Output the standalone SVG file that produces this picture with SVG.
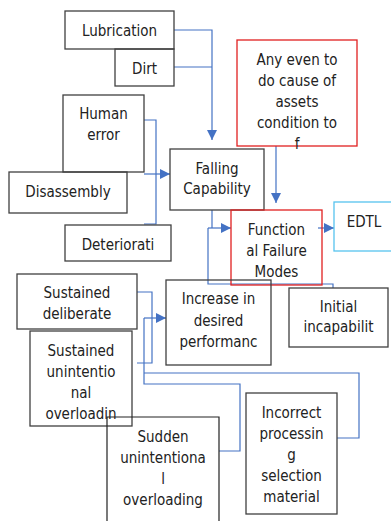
<svg xmlns="http://www.w3.org/2000/svg" width="391" height="521" viewBox="0 0 391 521">
<defs>
<marker id="ah" viewBox="0 0 10 10" refX="10" refY="5" markerWidth="10" markerHeight="10" markerUnits="userSpaceOnUse" orient="auto">
<path d="M0,0 L10,5 L0,10 Z" fill="#4472C4"/>
</marker>
<style>
.b{fill:none;stroke:#404040;stroke-width:1.3}
.r{fill:none;stroke:#e02020;stroke-width:1.3}
.c{fill:none;stroke:#56c3ee;stroke-width:1.3}
.t{font-family:"DejaVu Sans Condensed","DejaVu Sans","Liberation Sans",sans-serif;font-stretch:condensed;font-size:15px;fill:#222;text-anchor:middle}
.l{fill:none;stroke:#4472C4;stroke-width:1.2}
.k{fill:none;stroke:#222;stroke-width:1.2}
</style>
</defs>
<rect width="391" height="521" fill="#fff"/>
<g id="connectors">
<path class="l" d="M174,30 H212 V140" marker-end="url(#ah)"/>
<path class="l" d="M174,67 H212"/>
<path class="l" d="M144,120 H156 V224 H144"/>
<path class="l" d="M144,174 H170" marker-end="url(#ah)"/>
<path class="l" d="M276,146 V203" marker-end="url(#ah)"/>
<path class="l" d="M212,210 V228"/>
<path class="l" d="M208,228 H231" marker-end="url(#ah)"/>
<path class="l" d="M208,228 V284 H333 V288"/>
<path class="l" d="M318,228 H334" marker-end="url(#ah)"/>
<path class="l" d="M137,292 H152 V363 H137"/>
<path class="l" d="M144,318 H166" marker-end="url(#ah)"/>
<path class="l" d="M144,318 V384 H240 V451 H219"/>
<path class="l" d="M144,373 H359 V438 H337"/>
</g>
<g id="lubrication"><rect class="b" x="65" y="11" width="109" height="38"/><text class="t" x="119.5" y="36">Lubrication</text></g>
<g id="dirt"><rect class="b" x="115" y="49" width="59" height="37"/><text class="t" x="144.5" y="74">Dirt</text></g>
<g id="human-error"><rect class="b" x="63" y="95" width="81" height="77"/><text class="t" x="103.5" y="119">Human</text><text class="t" x="103.5" y="140">error</text></g>
<g id="disassembly"><rect class="b" x="9" y="172" width="118" height="41"/><text class="t" x="68" y="197">Disassembly</text></g>
<g id="deteriorati"><rect class="b" x="65" y="225" width="106" height="36"/><text class="t" x="118" y="250">Deteriorati</text></g>
<g id="any-even"><rect class="r" x="237" y="40" width="120" height="106"/><text class="t" x="297" y="65">Any even to</text><text class="t" x="297" y="86">do cause of</text><text class="t" x="297" y="107">assets</text><text class="t" x="297" y="128">condition to</text><text class="t" x="297" y="149">f</text></g>
<g id="falling-capability"><rect class="b" x="170" y="149" width="94" height="61"/><text class="t" x="217" y="174">Falling</text><text class="t" x="217" y="194">Capability</text></g>
<g id="functional-failure"><rect class="r" x="231" y="210" width="91" height="75"/><text class="t" x="276.5" y="235">Function</text><text class="t" x="276.5" y="256">al Failure</text><text class="t" x="276.5" y="277">Modes</text></g>
<g id="edtl"><rect class="c" x="334" y="202" width="62" height="49"/><text class="t" x="364" y="227">EDTL</text></g>
<g id="initial"><rect class="b" x="289" y="288" width="99" height="59"/><text class="t" x="338.5" y="312">Initial</text><text class="t" x="338.5" y="332">incapabilit</text></g>
<g id="increase"><rect class="b" x="166" y="280" width="105" height="85"/><text class="t" x="218.5" y="304">Increase in</text><text class="t" x="218.5" y="326">desired</text><text class="t" x="218.5" y="347">performanc</text></g>
<g id="sustained-deliberate"><rect class="b" x="17" y="274" width="120" height="55"/><text class="t" x="77" y="298">Sustained</text><text class="t" x="77" y="319">deliberate</text></g>
<g id="sustained-unintentional"><rect class="b" x="30" y="331" width="102" height="95"/><text class="t" x="81" y="356">Sustained</text><text class="t" x="81" y="377">unintentio</text><text class="t" x="81" y="398">nal</text><text class="t" x="81" y="419">overloadin</text></g>
<g id="sudden"><path class="k" d="M107,526 V417 H219 V526"/><text class="t" x="163" y="442">Sudden</text><text class="t" x="163" y="463">unintentiona</text><text class="t" x="163" y="484">l</text><text class="t" x="163" y="505">overloading</text></g>
<g id="incorrect"><rect class="b" x="246" y="393" width="91" height="121"/><text class="t" x="291.5" y="418">Incorrect</text><text class="t" x="291.5" y="439">processin</text><text class="t" x="291.5" y="460">g</text><text class="t" x="291.5" y="481">selection</text><text class="t" x="291.5" y="502">material</text></g>
</svg>
